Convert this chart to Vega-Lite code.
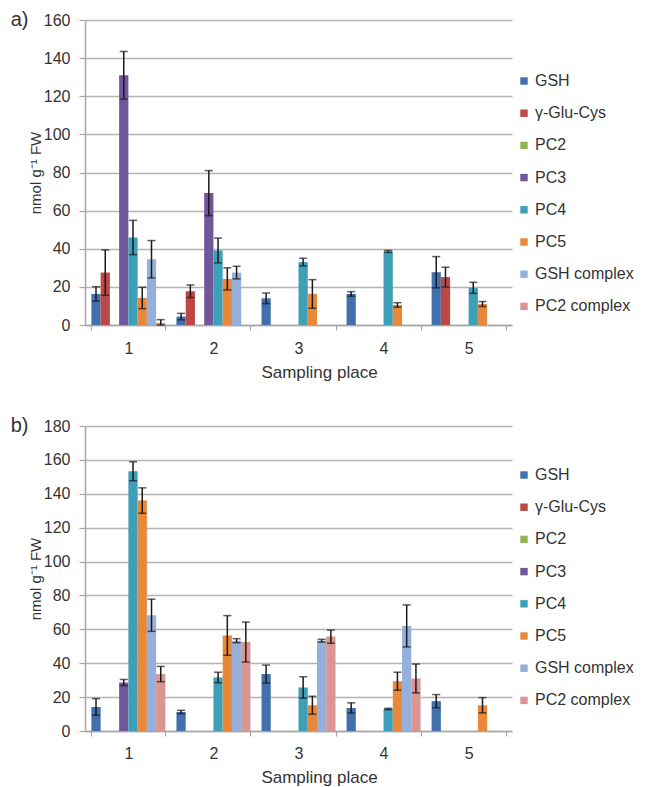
{
  "$schema": "https://vega.github.io/schema/vega-lite/v6.json",
  "background": "white",
  "padding": {"left": 10, "top": 10, "right": 5, "bottom": 5},
  "config": {
    "font": "Liberation Sans",
    "view": {"stroke": null},
    "axis": {"labelFont": "Liberation Sans", "titleFont": "Liberation Sans", "labelFontSize": 16, "titleFontSize": 15, "labelColor": "#333333", "titleColor": "#333333", "titleFontWeight": "normal", "domainColor": "#a6a6a6", "tickColor": "#a6a6a6", "gridColor": "#b3b3b3", "gridWidth": 1.5, "domainWidth": 1.5, "tickWidth": 1.2, "labelOverlap": false},
    "legend": {"labelFont": "Liberation Sans", "labelFontSize": 16, "labelColor": "#333333", "symbolType": "square", "symbolSize": 55, "symbolStrokeWidth": 0, "rowPadding": 16.2, "labelOffset": 3, "padding": 0, "orient": "none"},
    "title": {"font": "Liberation Sans", "fontSize": 20, "fontWeight": "normal", "color": "#333333"}
  },
  "datasets": {
    "a": [
      {"place": "1", "series": "GSH", "value": 16.3, "lo": 12.5, "hi": 20.1},
      {"place": "1", "series": "γ-Glu-Cys", "value": 27.5, "lo": 15.6, "hi": 39.4},
      {"place": "1", "series": "PC3", "value": 131, "lo": 118.5, "hi": 143.5},
      {"place": "1", "series": "PC4", "value": 45.9, "lo": 36.9, "hi": 54.9},
      {"place": "1", "series": "PC5", "value": 14.2, "lo": 8.6, "hi": 19.8},
      {"place": "1", "series": "GSH complex", "value": 34.5, "lo": 24.7, "hi": 44.3},
      {"place": "1", "series": "PC2 complex", "value": 1.2, "lo": 0, "hi": 2.8},
      {"place": "2", "series": "GSH", "value": 4.4, "lo": 2.7, "hi": 6.1},
      {"place": "2", "series": "γ-Glu-Cys", "value": 17.7, "lo": 14.4, "hi": 21},
      {"place": "2", "series": "PC3", "value": 69.2, "lo": 57.4, "hi": 81},
      {"place": "2", "series": "PC4", "value": 39.1, "lo": 32.6, "hi": 45.6},
      {"place": "2", "series": "PC5", "value": 24.2, "lo": 18.4, "hi": 30},
      {"place": "2", "series": "GSH complex", "value": 27.5, "lo": 24.2, "hi": 30.8},
      {"place": "3", "series": "GSH", "value": 14, "lo": 11.2, "hi": 16.8},
      {"place": "3", "series": "PC4", "value": 33, "lo": 31, "hi": 35},
      {"place": "3", "series": "PC5", "value": 16.3, "lo": 8.8, "hi": 23.8},
      {"place": "4", "series": "GSH", "value": 16.3, "lo": 15.1, "hi": 17.5},
      {"place": "4", "series": "PC4", "value": 38.6, "lo": 38.1, "hi": 39.1},
      {"place": "4", "series": "PC5", "value": 10.5, "lo": 9.3, "hi": 11.7},
      {"place": "5", "series": "GSH", "value": 27.7, "lo": 19.5, "hi": 35.9},
      {"place": "5", "series": "γ-Glu-Cys", "value": 25.1, "lo": 19.9, "hi": 30.3},
      {"place": "5", "series": "PC4", "value": 19.5, "lo": 16.6, "hi": 22.4},
      {"place": "5", "series": "PC5", "value": 11, "lo": 9.7, "hi": 12.3}
    ],
    "b": [
      {"place": "1", "series": "GSH", "value": 14.2, "lo": 9.3, "hi": 19.1},
      {"place": "1", "series": "PC3", "value": 28.6, "lo": 26.8, "hi": 30.4},
      {"place": "1", "series": "PC4", "value": 153.3, "lo": 147.7, "hi": 158.9},
      {"place": "1", "series": "PC5", "value": 136, "lo": 128.5, "hi": 143.5},
      {"place": "1", "series": "GSH complex", "value": 68.3, "lo": 58.8, "hi": 77.8},
      {"place": "1", "series": "PC2 complex", "value": 33.6, "lo": 29.1, "hi": 38.1},
      {"place": "2", "series": "GSH", "value": 11.2, "lo": 10.2, "hi": 12.2},
      {"place": "2", "series": "PC4", "value": 31.6, "lo": 28.5, "hi": 34.7},
      {"place": "2", "series": "PC5", "value": 56.4, "lo": 44.7, "hi": 68.1},
      {"place": "2", "series": "GSH complex", "value": 53.3, "lo": 52.1, "hi": 54.5},
      {"place": "2", "series": "PC2 complex", "value": 52.5, "lo": 40.7, "hi": 64.3},
      {"place": "3", "series": "GSH", "value": 33.6, "lo": 28.3, "hi": 38.9},
      {"place": "3", "series": "PC4", "value": 25.7, "lo": 19.4, "hi": 32},
      {"place": "3", "series": "PC5", "value": 15.2, "lo": 9.9, "hi": 20.5},
      {"place": "3", "series": "GSH complex", "value": 53.3, "lo": 52.5, "hi": 54.1},
      {"place": "3", "series": "PC2 complex", "value": 55.7, "lo": 51.8, "hi": 59.6},
      {"place": "4", "series": "GSH", "value": 13.6, "lo": 10.6, "hi": 16.6},
      {"place": "4", "series": "PC4", "value": 13, "lo": 12.6, "hi": 13.4},
      {"place": "4", "series": "PC5", "value": 29.4, "lo": 24.1, "hi": 34.7},
      {"place": "4", "series": "GSH complex", "value": 62, "lo": 49.6, "hi": 74.4},
      {"place": "4", "series": "PC2 complex", "value": 31, "lo": 22.5, "hi": 39.5},
      {"place": "5", "series": "GSH", "value": 17.6, "lo": 13.7, "hi": 21.5},
      {"place": "5", "series": "PC5", "value": 15.2, "lo": 10.7, "hi": 19.7}
    ]
  },
  "vconcat": [
    {
      "width": 427, "height": 305,
      "title": {"text": "a)", "orient": "left", "anchor": "end", "frame": "group", "angle": 0, "align": "right", "baseline": "middle", "offset": -18},
      "data": {"name": "a"},
      "encoding": {
        "x": {"field": "place", "type": "nominal", "scale": {"type": "band", "paddingInner": 0.13, "paddingOuter": 0.075}, "axis": {"title": "Sampling place", "titleFontSize": 17, "titleX": 234, "labelAngle": 0, "tickBand": "extent", "tickSize": 5, "labelPadding": 10, "titlePadding": 8}},
        "xOffset": {"field": "series", "type": "nominal", "scale": {"domain": ["GSH", "γ-Glu-Cys", "PC2", "PC3", "PC4", "PC5", "GSH complex", "PC2 complex"], "paddingInner": 0, "paddingOuter": 0}}
      },
      "layer": [
        {
          "mark": {"type": "bar"},
          "encoding": {
            "y": {"field": "value", "type": "quantitative", "scale": {"domain": [0, 160], "nice": false}, "axis": {"title": "nmol g⁻¹ FW", "values": [0, 20, 40, 60, 80, 100, 120, 140, 160], "tickSize": 6, "labelPadding": 9, "titlePadding": 0}},
            "color": {"field": "series", "type": "nominal", "scale": {"domain": ["GSH", "γ-Glu-Cys", "PC2", "PC3", "PC4", "PC5", "GSH complex", "PC2 complex"], "range": ["#4270ac", "#bb4845", "#93b455", "#70579a", "#3da0b8", "#e8883a", "#95b0da", "#d99593"]}, "legend": {"title": null, "legendX": 431, "legendY": 53}}
          }
        },
        {
          "mark": {"type": "rule", "color": "#1a1a1a", "strokeWidth": 1.5},
          "encoding": {"y": {"field": "lo", "type": "quantitative", "axis": {"title": "nmol g⁻¹ FW", "values": [0, 20, 40, 60, 80, 100, 120, 140, 160], "tickSize": 6, "labelPadding": 9, "titlePadding": 0}}, "y2": {"field": "hi"}}
        },
        {
          "mark": {"type": "tick", "orient": "horizontal", "color": "#1a1a1a", "size": 8, "thickness": 1.5},
          "encoding": {"y": {"field": "hi", "type": "quantitative", "axis": {"title": "nmol g⁻¹ FW", "values": [0, 20, 40, 60, 80, 100, 120, 140, 160], "tickSize": 6, "labelPadding": 9, "titlePadding": 0}}}
        },
        {
          "mark": {"type": "tick", "orient": "horizontal", "color": "#1a1a1a", "size": 8, "thickness": 1.5},
          "encoding": {"y": {"field": "lo", "type": "quantitative", "axis": {"title": "nmol g⁻¹ FW", "values": [0, 20, 40, 60, 80, 100, 120, 140, 160], "tickSize": 6, "labelPadding": 9, "titlePadding": 0}}}
        }
      ]
    },
    {
      "width": 427, "height": 305,
      "title": {"text": "b)", "orient": "left", "anchor": "end", "frame": "group", "angle": 0, "align": "right", "baseline": "middle", "offset": -18},
      "data": {"name": "b"},
      "encoding": {
        "x": {"field": "place", "type": "nominal", "scale": {"type": "band", "paddingInner": 0.13, "paddingOuter": 0.075}, "axis": {"title": "Sampling place", "titleFontSize": 17, "titleX": 234, "labelAngle": 0, "tickBand": "extent", "tickSize": 5, "labelPadding": 9, "titlePadding": 8}},
        "xOffset": {"field": "series", "type": "nominal", "scale": {"domain": ["GSH", "γ-Glu-Cys", "PC2", "PC3", "PC4", "PC5", "GSH complex", "PC2 complex"], "paddingInner": 0, "paddingOuter": 0}}
      },
      "layer": [
        {
          "mark": {"type": "bar"},
          "encoding": {
            "y": {"field": "value", "type": "quantitative", "scale": {"domain": [0, 180], "nice": false}, "axis": {"title": "nmol g⁻¹ FW", "values": [0, 20, 40, 60, 80, 100, 120, 140, 160, 180], "tickSize": 6, "labelPadding": 9, "titlePadding": 0}},
            "color": {"field": "series", "type": "nominal", "scale": {"domain": ["GSH", "γ-Glu-Cys", "PC2", "PC3", "PC4", "PC5", "GSH complex", "PC2 complex"], "range": ["#4270ac", "#bb4845", "#93b455", "#70579a", "#3da0b8", "#e8883a", "#95b0da", "#d99593"]}, "legend": {"title": null, "legendX": 431, "legendY": 41}}
          }
        },
        {
          "mark": {"type": "rule", "color": "#1a1a1a", "strokeWidth": 1.5},
          "encoding": {"y": {"field": "lo", "type": "quantitative", "axis": {"title": "nmol g⁻¹ FW", "values": [0, 20, 40, 60, 80, 100, 120, 140, 160, 180], "tickSize": 6, "labelPadding": 9, "titlePadding": 0}}, "y2": {"field": "hi"}}
        },
        {
          "mark": {"type": "tick", "orient": "horizontal", "color": "#1a1a1a", "size": 8, "thickness": 1.5},
          "encoding": {"y": {"field": "hi", "type": "quantitative", "axis": {"title": "nmol g⁻¹ FW", "values": [0, 20, 40, 60, 80, 100, 120, 140, 160, 180], "tickSize": 6, "labelPadding": 9, "titlePadding": 0}}}
        },
        {
          "mark": {"type": "tick", "orient": "horizontal", "color": "#1a1a1a", "size": 8, "thickness": 1.5},
          "encoding": {"y": {"field": "lo", "type": "quantitative", "axis": {"title": "nmol g⁻¹ FW", "values": [0, 20, 40, 60, 80, 100, 120, 140, 160, 180], "tickSize": 6, "labelPadding": 9, "titlePadding": 0}}}
        }
      ]
    }
  ],
  "spacing": 36,
  "resolve": {"scale": {"color": "independent", "y": "independent"}, "legend": {"color": "independent"}}
}
